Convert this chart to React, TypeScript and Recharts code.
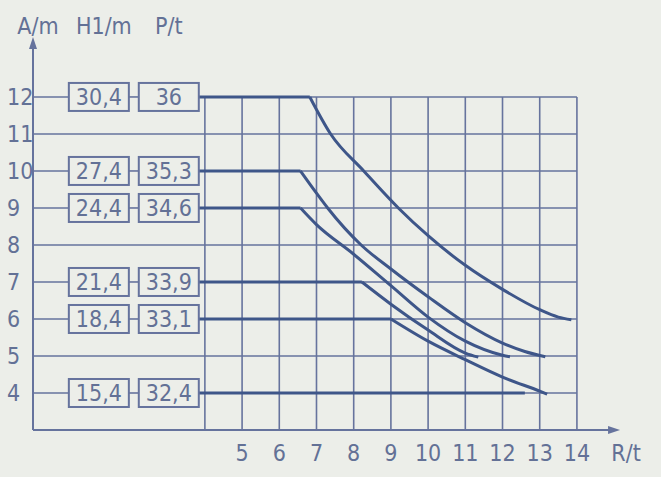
import React from 'react';
import {
  ComposedChart,
  Line,
  Scatter,
  XAxis,
  YAxis,
  ReferenceLine,
  ReferenceDot
} from 'recharts';

const W = 661;
const H = 477;
const BG = '#eceee9';
const GRID = '#66739d';
const CURVE = '#3e5689';
const INK = '#637196';
const FONT = "'Liberation Sans Narrow', 'DejaVu Sans Condensed', 'Liberation Sans', Arial, sans-serif";
const FS = 23;

// axes
const xTicks = [5, 6, 7, 8, 9, 10, 11, 12, 13, 14];
const yTicks = [4, 5, 6, 7, 8, 9, 10, 11, 12];
const gridR = [4, 5, 6, 7, 8, 9, 10, 11, 12, 13, 14];
const gridA = [4, 5, 6, 7, 8, 9, 10, 11, 12];

// rows with the H1 / P boxes
const rowA = [12, 10, 9, 7, 6, 4];
const rowH1 = ['30,4', '27,4', '24,4', '21,4', '18,4', '15,4'];
const rowP = ['36', '35,3', '34,6', '33,9', '33,1', '32,4'];

// thick line leaves the P box here, row 4 stops flat
const lineStart = 3.84;
const flat4End = 12.6;

// load curves from the knee on (R/t, A/m)
const curve12 = [
  { r: 6.82, a: 12 }, { r: 7.38, a: 11 }, { r: 8.27, a: 10 }, { r: 9.2, a: 9 },
  { r: 10, a: 8.25 }, { r: 11, a: 7.45 }, { r: 12, a: 6.8 }, { r: 13, a: 6.25 },
  { r: 13.5, a: 6.05 }, { r: 13.85, a: 5.98 }
];
const curve10 = [
  { r: 6.57, a: 10 }, { r: 7, a: 9.4 }, { r: 7.3, a: 9 }, { r: 8.2, a: 8 },
  { r: 9, a: 7.35 }, { r: 10, a: 6.6 }, { r: 11, a: 5.9 }, { r: 12, a: 5.35 },
  { r: 12.6, a: 5.12 }, { r: 13.15, a: 4.98 }
];
const curve9 = [
  { r: 6.57, a: 9 }, { r: 7, a: 8.55 }, { r: 8, a: 7.75 }, { r: 9, a: 6.9 },
  { r: 10, a: 6.05 }, { r: 11, a: 5.4 }, { r: 12, a: 5.02 }, { r: 12.2, a: 4.98 }
];
const curve7 = [
  { r: 8.22, a: 7 }, { r: 9, a: 6.4 }, { r: 10, a: 5.7 }, { r: 11, a: 5.08 },
  { r: 11.35, a: 4.97 }
];
const curve6 = [
  { r: 9, a: 6 }, { r: 10, a: 5.4 }, { r: 11, a: 4.9 }, { r: 12, a: 4.43 },
  { r: 13, a: 4.05 }, { r: 13.2, a: 3.97 }
];
const curves = [curve12, curve10, curve9, curve7, curve6];

// layout
const X_MIN = -0.62;
const X_MAX = 16.26;
const Y_MIN = 3;
const Y_MAX = 14.62;
const AXIS_TOP = 13.62;
const ARROW_R = 15.16;
const PX_PER_R = 37.2;
const H1_COL = 1.15;
const P_COL = 3.03;
const BOX_W = 60;
const BOX_H = 28;
const BOX_HALF = BOX_W / 2 / PX_PER_R;

const flats = rowA.map((a, i) => [
  { r: lineStart, a },
  { r: i < curves.length ? curves[i][0].r : flat4End, a }
]);

const h1Boxes = rowA.map((a, i) => ({ r: H1_COL, a, label: rowH1[i] }));
const pBoxes = rowA.map((a, i) => ({ r: P_COL, a, label: rowP[i] }));

const BoxMark = (props: any) => {
  const { cx, cy, payload } = props;
  return (
    <g>
      <rect x={cx - BOX_W / 2} y={cy - BOX_H / 2} width={BOX_W} height={BOX_H} fill={BG} stroke={GRID} strokeWidth={2} />
      <text x={cx} y={cy + 8} textAnchor="middle" fill={INK} fontSize={FS} fontFamily={FONT}>
        {payload.label}
      </text>
    </g>
  );
};

const XTick = ({ x, y, payload }: any) => (
  <text x={x} y={y + 23} textAnchor="middle" fill={INK} fontSize={FS} fontFamily={FONT}>
    {payload.value}
  </text>
);

const YTick = ({ y, payload }: any) => (
  <text x={7} y={y + 8} textAnchor="start" fill={INK} fontSize={FS} fontFamily={FONT}>
    {payload.value}
  </text>
);

const textShape = (label: string, dx: number, dy: number, anchor = 'middle') => (props: any) => (
  <text x={props.cx + dx} y={props.cy + dy} textAnchor={anchor} fill={INK} fontSize={FS} fontFamily={FONT}>
    {label}
  </text>
);

const arrowRight = (props: any) => (
  <polygon points={`${props.cx},${props.cy} ${props.cx - 12},${props.cy - 4} ${props.cx - 12},${props.cy + 4}`} fill={GRID} />
);
const arrowUp = (props: any) => (
  <polygon points={`${props.cx},${props.cy} ${props.cx - 4},${props.cy + 12} ${props.cx + 4},${props.cy + 12}`} fill={GRID} />
);

// horizontal grid line, broken where the boxes sit
const rowSegments = (a: number) => {
  if (!rowA.includes(a)) return [[X_MIN, 14]];
  return [
    [X_MIN, H1_COL - BOX_HALF],
    [H1_COL + BOX_HALF, P_COL - BOX_HALF],
    [P_COL + BOX_HALF, 14]
  ];
};

export default function App() {
  return (
    <div style={{ position: 'absolute', left: 0, top: 0, width: W, height: H, background: BG }}>
      <ComposedChart width={W} height={H} margin={{ top: 0, right: 0, bottom: 0, left: 0 }}>
        <XAxis
          type="number"
          dataKey="r"
          domain={[X_MIN, X_MAX]}
          allowDataOverflow
          ticks={xTicks}
          height={47}
          axisLine={false}
          tickLine={false}
          tick={<XTick />}
        />
        <YAxis
          type="number"
          dataKey="a"
          domain={[Y_MIN, Y_MAX]}
          allowDataOverflow
          ticks={yTicks}
          width={33}
          axisLine={false}
          tickLine={false}
          tick={<YTick />}
        />

        {gridR.map((r) => (
          <ReferenceLine key={`v${r}`} segment={[{ x: r, y: Y_MIN }, { x: r, y: 12 }]} stroke={GRID} strokeWidth={1.6} />
        ))}
        {gridA.map((a) =>
          rowSegments(a).map(([x1, x2], j) => (
            <ReferenceLine key={`h${a}-${j}`} segment={[{ x: x1, y: a }, { x: x2, y: a }]} stroke={GRID} strokeWidth={1.6} />
          ))
        )}

        <ReferenceLine segment={[{ x: X_MIN, y: Y_MIN }, { x: ARROW_R - 0.2, y: Y_MIN }]} stroke={GRID} strokeWidth={2} />
        <ReferenceLine segment={[{ x: X_MIN, y: Y_MIN }, { x: X_MIN, y: AXIS_TOP - 0.2 }]} stroke={GRID} strokeWidth={2} />
        <ReferenceDot x={ARROW_R} y={Y_MIN} shape={arrowRight} />
        <ReferenceDot x={X_MIN} y={AXIS_TOP} shape={arrowUp} />

        <ReferenceDot x={X_MIN} y={AXIS_TOP} shape={textShape('A/m', 5, -3)} />
        <ReferenceDot x={H1_COL} y={AXIS_TOP} shape={textShape('H1/m', 5, -3)} />
        <ReferenceDot x={P_COL} y={AXIS_TOP} shape={textShape('P/t', 0, -3)} />
        <ReferenceDot x={ARROW_R} y={Y_MIN} shape={textShape('R/t', 6, 31)} />

        {flats.map((d, i) => (
          <Line key={`f${i}`} data={d} dataKey="a" type="linear" stroke={CURVE} strokeWidth={3} dot={false} isAnimationActive={false} />
        ))}
        {curves.map((d, i) => (
          <Line key={`c${i}`} data={d} dataKey="a" type="monotone" stroke={CURVE} strokeWidth={3} dot={false} isAnimationActive={false} />
        ))}

        <Scatter data={h1Boxes} dataKey="a" shape={<BoxMark />} isAnimationActive={false} />
        <Scatter data={pBoxes} dataKey="a" shape={<BoxMark />} isAnimationActive={false} />
      </ComposedChart>
    </div>
  );
}
